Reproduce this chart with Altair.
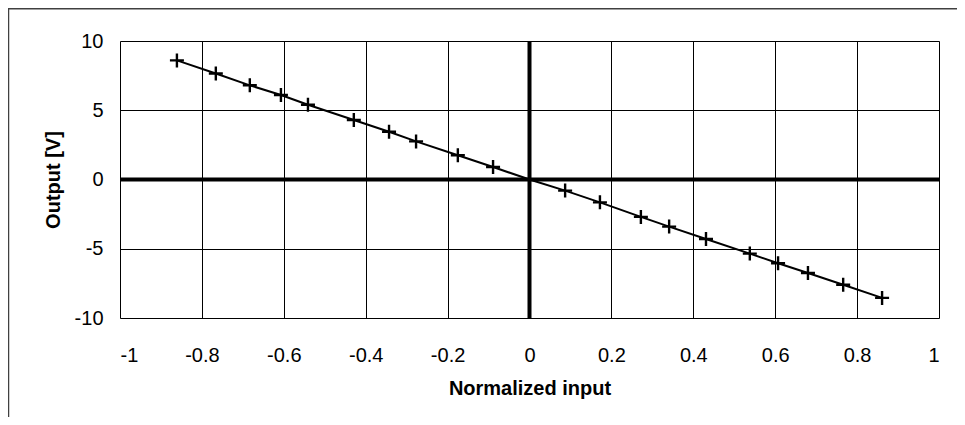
import altair as alt
import pandas as pd

x_vals = [-0.861, -0.766, -0.683, -0.607, -0.541, -0.429, -0.343, -0.277, -0.175, -0.089, 0.0,
          0.087, 0.172, 0.272, 0.341, 0.431, 0.538, 0.607, 0.680, 0.766, 0.861]
y_vals = [8.6, 7.65, 6.8, 6.1, 5.4, 4.3, 3.45, 2.75, 1.75, 0.9, 0.0,
          -0.8, -1.65, -2.7, -3.4, -4.3, -5.35, -6.05, -6.75, -7.6, -8.55]
x_ticks = [-1, -0.8, -0.6, -0.4, -0.2, 0, 0.2, 0.4, 0.6, 0.8, 1]
y_ticks = [-10, -5, 0, 5, 10]

df = pd.DataFrame({"x": x_vals, "y": y_vals})
zero = pd.DataFrame({"v": [0]})

FONT = "Liberation Sans"
xs = alt.Scale(domain=[-1, 1], nice=False, zero=False)
ys = alt.Scale(domain=[-10, 10], nice=False, zero=False)

base = alt.Chart(df)

line = base.mark_line(color="black", strokeWidth=2).encode(
    x=alt.X("x:Q", scale=xs,
            axis=alt.Axis(values=x_ticks, title="Normalized input", grid=True,
                          gridColor="black", gridOpacity=1, gridWidth=1,
                          domain=False, ticks=False, labelPadding=27,
                          labelFontSize=20, labelFont=FONT, labelColor="black",
                          titleFont=FONT, titleFontSize=20, titleFontWeight="bold",
                          titleColor="black", titlePadding=13,
                          labelExpr="datum.value + ''")),
    y=alt.Y("y:Q", scale=ys,
            axis=alt.Axis(values=y_ticks, title="Output [V]", grid=True,
                          gridColor="black", gridOpacity=1, gridWidth=1,
                          domain=False, ticks=False, labelPadding=17,
                          labelFontSize=20, labelFont=FONT, labelColor="black",
                          titleFont=FONT, titleFontSize=20, titleFontWeight="bold",
                          titleColor="black", titlePadding=11,
                          labelExpr="datum.value + ''")),
)

vzero = alt.Chart(zero).mark_rule(color="black", strokeWidth=4).encode(x=alt.X("v:Q", scale=xs))
hzero = alt.Chart(zero).mark_rule(color="black", strokeWidth=4).encode(y=alt.Y("v:Q", scale=ys))

points = base.mark_point(shape="M-1,0L1,0M0,-1L0,1", size=196, color="black",
                         strokeWidth=2.4, filled=False, opacity=1).encode(
    x=alt.X("x:Q", scale=xs), y=alt.Y("y:Q", scale=ys))

frame_top = alt.Chart(zero).mark_rule(color="#404040", strokeWidth=1.5).encode(
    x=alt.value(-112), x2=alt.value(837), y=alt.value(-32.2))
frame_left = alt.Chart(zero).mark_rule(color="#404040", strokeWidth=1.5).encode(
    x=alt.value(-111.5), y=alt.value(-33), y2=alt.value(376))

chart = alt.layer(line, vzero, hzero, points, frame_top, frame_left).properties(
    width=819, height=277,
    autosize=alt.AutoSizeParams(type="none"),
    padding={"left": 112, "top": 33, "right": 18, "bottom": 99},
).configure_view(stroke="black", strokeWidth=1.5).configure(background="white")

chart.save("out.html", embed_options={"renderer": "svg", "actions": False})
